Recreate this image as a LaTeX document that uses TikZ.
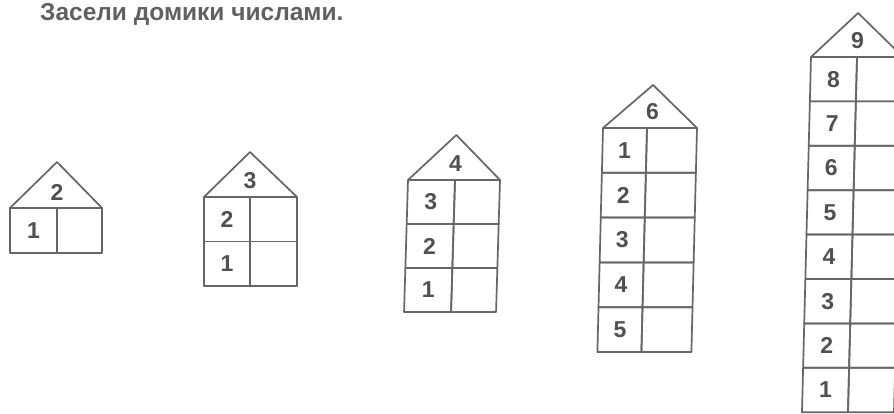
\documentclass[tikz,border=0pt]{standalone}
\usepackage{fontspec}
\setmainfont{Liberation Sans}
\definecolor{ink}{HTML}{666666}
\definecolor{digit}{HTML}{505050}
\definecolor{headc}{HTML}{606060}
\tikzset{
  wall/.style={draw=ink, line width=1.7pt, line join=round},
  num/.style={text=digit, font=\fontsize{23}{23}\selectfont\bfseries, inner sep=0pt},
  heading/.style={text=headc, font=\fontsize{24.5}{25}\selectfont\bfseries, inner sep=0pt, anchor=base west}
}
% #1 name, #2 width, #3 divider, #4 row height, #5 apex x, #6 roof height, #7 roof label, #8 row labels
\newcommand{\hut}[8]{%
  \draw[wall] (0,0) -- (#5,-#6) -- (#2,0) -- cycle;
  \node[num] (#1r) at (#5,-16) {#7};
  \foreach \lab [count=\i] in {#8} {
    \draw[wall] (0,{(\i-1)*#4}) rectangle (#3,{\i*#4});
    \draw[wall] (#3,{(\i-1)*#4}) rectangle (#2,{\i*#4});
    \node[num] (#1c\i) at ({#3/2},{(\i-0.5)*#4}) {\lab};
  }
}
\begin{document}
\begin{tikzpicture}[x=1pt,y=-1pt]
\useasboundingbox (0,0) rectangle (894,414);
\clip (0,0) rectangle (894,414);
\fill[white] (0,0) rectangle (894,414);
\node[heading] (title) at (40,21) {Засели домики числами.};
\begin{scope}[shift={(10,208)}]
  \hut{a}{92}{47}{45}{47}{46}{2}{1}
\end{scope}
\begin{scope}[shift={(204,197)}]
  \hut{b}{93}{46}{44.5}{46}{45}{3}{2,1}
\end{scope}
\begin{scope}[shift={(408,180)}, xslant=0.03]
  \hut{c}{92}{47}{44}{47}{45}{4}{3,2,1}
\end{scope}
\begin{scope}[shift={(603,128)}, xslant=0.025]
  \hut{d}{94}{44}{44.8}{49}{43}{6}{1,2,3,4,5}
\end{scope}
\begin{scope}[shift={(811,57)}, xslant=0.0254]
  \hut{e}{92}{46}{44.4}{46}{44}{9}{8,7,6,5,4,3,2,1}
\end{scope}
\end{tikzpicture}
\end{document}
